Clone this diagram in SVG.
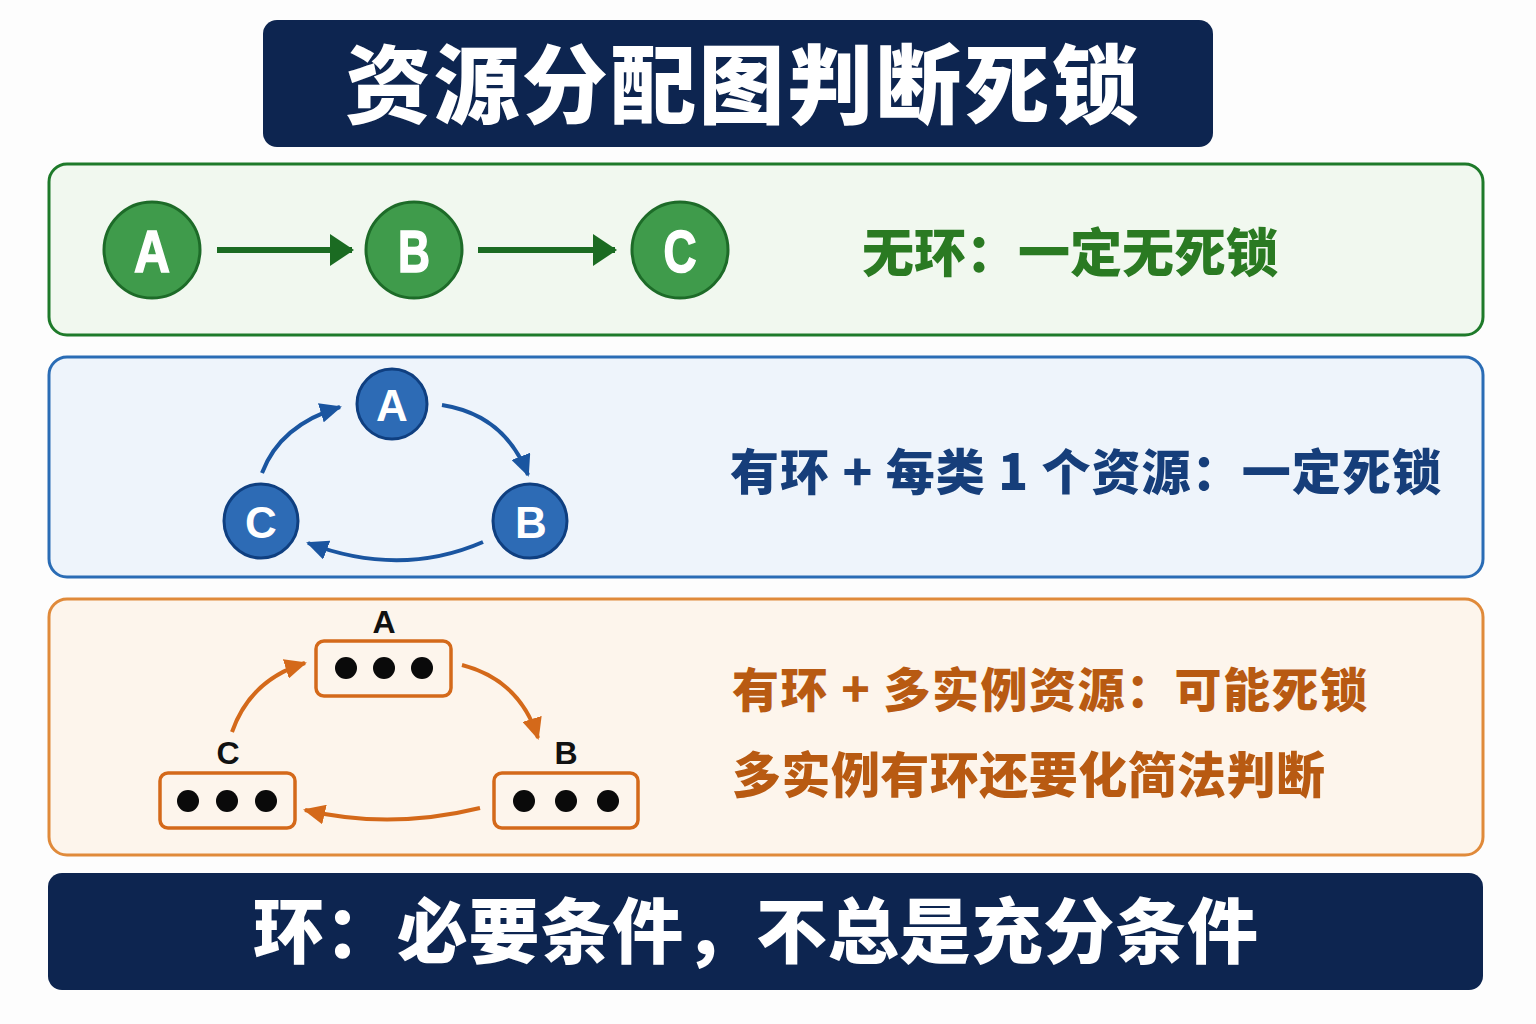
<svg xmlns="http://www.w3.org/2000/svg" width="1536" height="1024" viewBox="0 0 1536 1024">
<style>
.cjk{font-family:"Noto Sans CJK SC","Noto Sans",sans-serif;font-weight:900}
.lat{font-family:"Liberation Sans","Noto Sans",sans-serif;font-weight:700}
.gc{fill:#3f9b4b;stroke:#1d6b28;stroke-width:3}
.bc{fill:#2d6bb5;stroke:#0f3f80;stroke-width:3}
.ob{fill:#fdf5ec;stroke:#d4691a;stroke-width:3.5}
.dot{fill:#0a0a0a}
.wl{fill:#fff;stroke:#fff;stroke-width:1.6;font-size:60px;text-anchor:middle}
.bl{fill:#fff;font-size:44px;text-anchor:middle}
.kl{fill:#111;font-size:32px;text-anchor:middle}
</style>
<defs>
<marker id="ag" markerUnits="userSpaceOnUse" markerWidth="24" markerHeight="32" refX="22" refY="16" orient="auto"><path d="M0,0 L24,16 L0,32 Z" fill="#1b6b22"/></marker>
<marker id="ab" markerUnits="userSpaceOnUse" markerWidth="22" markerHeight="20" refX="20" refY="10" orient="auto"><path d="M0,0 L22,10 L0,20 Z" fill="#1a55a0"/></marker>
<marker id="ao" markerUnits="userSpaceOnUse" markerWidth="22" markerHeight="20" refX="20" refY="10" orient="auto"><path d="M0,0 L22,10 L0,20 Z" fill="#d4691a"/></marker>
</defs>
<rect width="1536" height="1024" fill="#fdfdfd"/>

<g id="title">
<rect x="263" y="20" width="950" height="127" rx="14" fill="#0d2550"/>
<text x="345" y="117" class="cjk" font-size="86" fill="#fff" textLength="793" lengthAdjust="spacing">资源分配图判断死锁</text>
</g>

<g id="panel-green">
<rect x="49" y="164" width="1434" height="171" rx="18" fill="#f1f8ef" stroke="#1e7a2a" stroke-width="3"/>
<text x="862" y="272" class="cjk" font-size="52" fill="#2a7a22">无环：一定无死锁</text>
</g>
<g id="g-A"><circle cx="152" cy="250" r="48" class="gc"/><text x="152" y="272" class="lat wl" textLength="36" lengthAdjust="spacingAndGlyphs">A</text></g>
<g id="g-B"><circle cx="414" cy="250" r="48" class="gc"/><text x="414" y="272" class="lat wl" textLength="32" lengthAdjust="spacingAndGlyphs">B</text></g>
<g id="g-C"><circle cx="680" cy="250" r="48" class="gc"/><text x="680" y="272" class="lat wl" textLength="33" lengthAdjust="spacingAndGlyphs">C</text></g>

<g id="panel-blue">
<rect x="49" y="357" width="1434" height="220" rx="18" fill="#eef4fb" stroke="#2a6cb5" stroke-width="3"/>
<text x="730" y="490" class="cjk" font-size="49" fill="#163e7a" textLength="711" lengthAdjust="spacing">有环 + 每类 1 个资源：一定死锁</text>
</g>
<g id="b-A"><circle cx="392" cy="404" r="35" class="bc"/><text x="392" y="421" class="lat bl">A</text></g>
<g id="b-B"><circle cx="530" cy="521" r="37" class="bc"/><text x="531" y="538" class="lat bl">B</text></g>
<g id="b-C"><circle cx="261" cy="521" r="37" class="bc"/><text x="261" y="538" class="lat bl">C</text></g>

<g id="panel-orange">
<rect x="49" y="599" width="1434" height="256" rx="18" fill="#fdf5ec" stroke="#e08a3a" stroke-width="3"/>
<text x="732" y="707" class="cjk" font-size="47" fill="#b85a12" textLength="635" lengthAdjust="spacing">有环 + 多实例资源：可能死锁</text>
<text x="732" y="793" class="cjk" font-size="49" fill="#b85a12" textLength="593" lengthAdjust="spacing">多实例有环还要化简法判断</text>
</g>
<g id="o-A">
<text x="384" y="633" class="lat kl">A</text>
<rect x="316" y="641" width="135" height="55" rx="8" class="ob"/>
<circle cx="346" cy="668" r="11" class="dot"/><circle cx="384" cy="668" r="11" class="dot"/><circle cx="422" cy="668" r="11" class="dot"/>
</g>
<g id="o-B">
<text x="566" y="764" class="lat kl">B</text>
<rect x="494" y="773" width="144" height="55" rx="8" class="ob"/>
<circle cx="524" cy="801" r="11" class="dot"/><circle cx="566" cy="801" r="11" class="dot"/><circle cx="608" cy="801" r="11" class="dot"/>
</g>
<g id="o-C">
<text x="228" y="764" class="lat kl">C</text>
<rect x="160" y="773" width="135" height="55" rx="8" class="ob"/>
<circle cx="188" cy="801" r="11" class="dot"/><circle cx="227" cy="801" r="11" class="dot"/><circle cx="266" cy="801" r="11" class="dot"/>
</g>

<g id="connectors" fill="none">
<line x1="217" y1="250" x2="352" y2="250" stroke="#1b6b22" stroke-width="6" marker-end="url(#ag)"/>
<line x1="478" y1="250" x2="615" y2="250" stroke="#1b6b22" stroke-width="6" marker-end="url(#ag)"/>
<path d="M262,473 Q280,425 340,407" stroke="#1a55a0" stroke-width="4" marker-end="url(#ab)"/>
<path d="M442,405 Q505,415 528,475" stroke="#1a55a0" stroke-width="4" marker-end="url(#ab)"/>
<path d="M483,542 Q400,578 308,543" stroke="#1a55a0" stroke-width="4" marker-end="url(#ab)"/>
<path d="M232,732 Q250,680 305,663" stroke="#d4691a" stroke-width="4" marker-end="url(#ao)"/>
<path d="M462,665 Q520,680 538,738" stroke="#d4691a" stroke-width="4" marker-end="url(#ao)"/>
<path d="M480,808 Q390,830 305,810" stroke="#d4691a" stroke-width="4" marker-end="url(#ao)"/>
</g>

<g id="footer">
<rect x="48" y="873" width="1435" height="117" rx="14" fill="#0d2550"/>
<text x="253" y="957" class="cjk" font-size="71" fill="#fff" textLength="1005" lengthAdjust="spacing">环：必要条件，不总是充分条件</text>
</g>
</svg>
